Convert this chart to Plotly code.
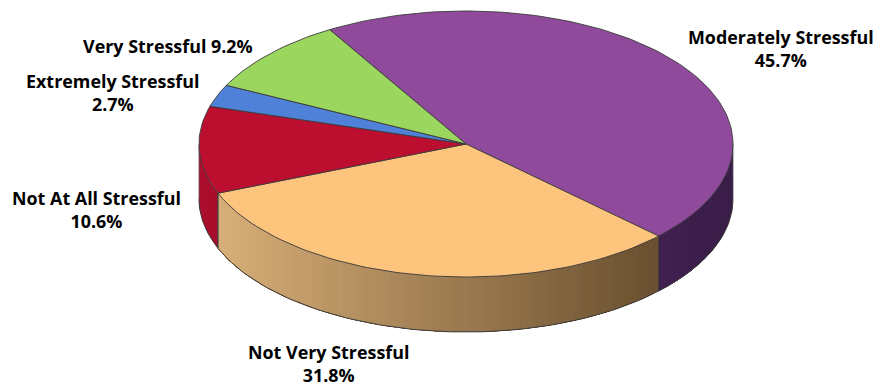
import math
import plotly.graph_objects as go

categories = ["Moderately Stressful", "Not Very Stressful", "Not At All Stressful",
              "Extremely Stressful", "Very Stressful"]
shares = [45.7, 31.8, 10.6, 2.7, 9.2]
top_colors = ["#904A9C", "#FDC47E", "#BC0F30", "#4F81D9", "#9BD65F"]
side_left = ["#40204F", "#D8AF78", "#B01030", "#3A62A8", "#78A848"]
side_right = ["#3A1D48", "#6A5030", "#A80E2C", "#3A62A8", "#78A848"]
label_texts = ["Moderately Stressful<br>45.7%", "Not Very Stressful<br>31.8%",
               "Not At All Stressful<br>10.6%", "Extremely Stressful<br>2.7%",
               "Very Stressful 9.2%"]
label_x = [781, 328, 96, 113, 168]
label_y = [48, 363, 209, 92, 46]

CX, CY, RX, RY, DEPTH = 466, 144, 267, 133, 55
START = -30.7


def pt(t, dy=0):
    r = math.radians(t)
    return CX + RX * math.sin(r), CY - RY * math.cos(r) + dy


def hex2rgb(h):
    return [int(h[i:i + 2], 16) for i in (1, 3, 5)]


def mix(a, b, f):
    ca, cb = hex2rgb(a), hex2rgb(b)
    return "rgb(%d,%d,%d)" % tuple(round(ca[i] + (cb[i] - ca[i]) * f) for i in range(3))


fig = go.Figure()
spans = []
t = START
for s in shares:
    spans.append((t, t + s * 3.6))
    t += s * 3.6

# side walls: visible part is the front half of the rim (90..270 degrees)
# each strip overlaps the next so no seams show
for i, (a, b) in enumerate(spans):
    for shift in (0, 360):
        lo, hi = max(a + shift, 90), min(b + shift, 270)
        if lo >= hi:
            continue
        x_lo, x_hi = pt(lo)[0], pt(hi)[0]
        n = max(2, int(abs(x_lo - x_hi) / 6))
        for k in range(n):
            t0 = lo + (hi - lo) * k / n
            m = 60
            top = [pt(t0 + (hi - t0) * j / m) for j in range(m + 1)]
            bot = [pt(t0 + (hi - t0) * j / m, DEPTH) for j in range(m, -1, -1)]
            xs = [p[0] for p in top + bot]
            ys = [p[1] for p in top + bot]
            f = abs(pt(t0)[0] - x_hi) / max(1, abs(x_lo - x_hi))
            col = mix(side_left[i], side_right[i], f)
            fig.add_trace(go.Scatter(x=xs, y=ys, mode="lines", fill="toself", fillcolor=col,
                                     line=dict(width=0), hoverinfo="skip", showlegend=False))

# outline of the wall
pts = [pt(90 + 180 * j / 120, DEPTH) for j in range(121)]
fig.add_trace(go.Scatter(x=[p[0] for p in pts], y=[p[1] for p in pts], mode="lines",
                         line=dict(color="#3c3c3c", width=1), hoverinfo="skip", showlegend=False))
for i, (a, b) in enumerate(spans):
    for edge in (a, b):
        e = edge % 360
        if 90 < e < 270:
            p0, p1 = pt(e), pt(e, DEPTH)
            fig.add_trace(go.Scatter(x=[p0[0], p1[0]], y=[p0[1], p1[1]], mode="lines",
                                     line=dict(color="#3c3c3c", width=0.8), hoverinfo="skip",
                                     showlegend=False))
for side in (90, 270):
    p0, p1 = pt(side), pt(side, DEPTH)
    fig.add_trace(go.Scatter(x=[p0[0], p1[0]], y=[p0[1], p1[1]], mode="lines",
                             line=dict(color="#555555", width=0.8), hoverinfo="skip", showlegend=False))

# top face
for i, (a, b) in enumerate(spans):
    n = max(8, int((b - a) / 1.5))
    arc = [pt(a + (b - a) * j / n) for j in range(n + 1)]
    xs = [CX] + [p[0] for p in arc] + [CX]
    ys = [CY] + [p[1] for p in arc] + [CY]
    fig.add_trace(go.Scatter(x=xs, y=ys, mode="lines", fill="toself", fillcolor=top_colors[i],
                             line=dict(color="#3a3a3a", width=0.9), name=categories[i],
                             hoverinfo="name", showlegend=False))

for txt, x, y in zip(label_texts, label_x, label_y):
    fig.add_annotation(x=x, y=y, text=txt, showarrow=False, xref="x", yref="y",
                       font=dict(family="Open Sans", size=17.9, color="#000000", weight="bold"),
                       align="center", xanchor="center", yanchor="middle")

fig.update_layout(width=884, height=389, margin=dict(l=0, r=0, t=0, b=0),
                  paper_bgcolor="white", plot_bgcolor="white", autosize=False,
                  xaxis=dict(range=[0, 884], visible=False, fixedrange=True),
                  yaxis=dict(range=[389, 0], visible=False, fixedrange=True))
fig.write_html("out.html", config=dict(displayModeBar=False),
               post_script="document.body.style.margin='0';document.body.style.overflow='hidden';")
